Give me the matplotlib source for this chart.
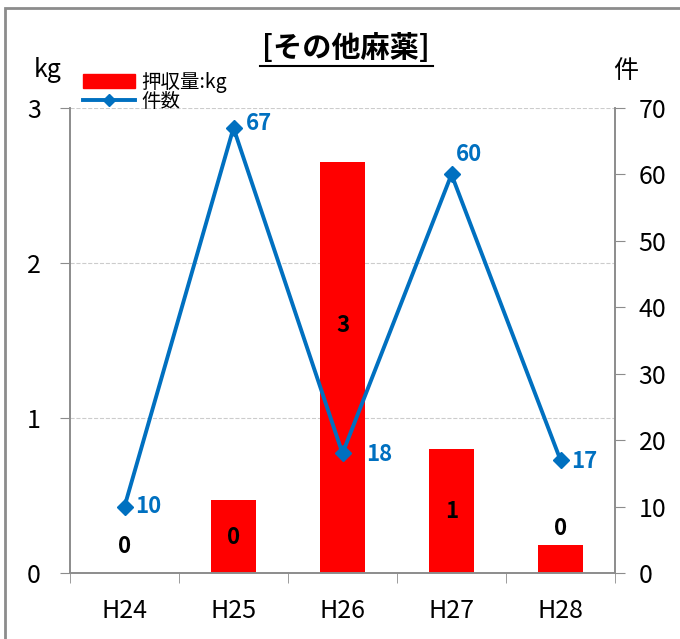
"""
その他麻薬: 押収量(kg) と 件数 の推移 (H24-H28)
"""

import matplotlib
matplotlib.use("Agg")
import matplotlib.pyplot as plt
from matplotlib.patches import Rectangle
from matplotlib.lines import Line2D
import numpy as np

plt.rcParams['font.family'] = ['Noto Sans CJK JP', 'DejaVu Sans']

years = ['H24', 'H25', 'H26', 'H27', 'H28']
seized_kg = [0.0, 0.47, 2.65, 0.80, 0.18]
cases = [10, 67, 18, 60, 17]

# label positions for the bar values (kg axis), tuned by hand
bar_label_y = [0.17, 0.23, 1.6, 0.4, 0.29]
# offsets (points) for the case count labels
case_label_off = [(8, 0), (9, 3), (17, -1), (3, 14), (8, -1)]

BAR_RED = '#FF0000'
LINE_BLUE = '#0070C0'
AXIS_GREY = '#8c8c8c'

fig = plt.figure(figsize=(6.8, 6.39), dpi=100)

# outer chart frame
fig.patches.append(Rectangle((5 / 680, -0.05), 1.0, 1 - 8 / 639 + 0.05,
                             transform=fig.transFigure, fill=False,
                             edgecolor=AXIS_GREY, linewidth=2))

ax = fig.add_axes([70 / 680, 66 / 639, 545 / 680, 465 / 639])
x = np.arange(len(years))

ax.bar(x, seized_kg, width=0.41, color=BAR_RED, zorder=2)
for xi, v, ly in zip(x, seized_kg, bar_label_y):
    ax.text(xi, ly, f'{v:.0f}', ha='center', va='center',
            fontsize=16, fontweight='bold', color='black', zorder=5)

ax.set_xlim(-0.5, len(years) - 0.5)
ax.set_ylim(0, 3)
ax.set_yticks([0, 1, 2, 3])
ax.set_yticklabels(['0', '1', '2', '3'])
ax.grid(axis='y', color='#cccccc', linestyle='--', linewidth=0.8, zorder=0)
ax.set_axisbelow(True)

ax.set_xticks(x)
ax.set_xticklabels(years)
ax.set_xticks(np.arange(-0.5, len(years)), minor=True)
ax.tick_params(axis='x', which='major', length=0, pad=18, labelsize=18)
ax.tick_params(axis='x', which='minor', length=7, direction='out', color=AXIS_GREY)
ax.tick_params(axis='y', length=7, direction='out', color=AXIS_GREY,
               labelsize=18, pad=14)

ax.spines['top'].set_visible(False)
for side in ['left', 'bottom', 'right']:
    ax.spines[side].set_color(AXIS_GREY)
    ax.spines[side].set_linewidth(1.2)

ax2 = ax.twinx()
ax2.plot(x, cases, color=LINE_BLUE, linewidth=2.8, marker='D',
         markersize=8, zorder=4)
for xi, c, off in zip(x, cases, case_label_off):
    ax2.annotate(str(c), (xi, c), xytext=off, textcoords='offset points',
                 ha='left', va='center', fontsize=16, fontweight='bold',
                 color=LINE_BLUE)
ax2.set_ylim(0, 70)
ax2.set_yticks(range(0, 71, 10))
ax2.tick_params(axis='y', length=7, direction='out', color=AXIS_GREY,
                labelsize=18, pad=10)
ax2.spines['top'].set_visible(False)
for side in ['left', 'bottom', 'right']:
    ax2.spines[side].set_color(AXIS_GREY)
    ax2.spines[side].set_linewidth(1.2)
ax2.set_xlim(-0.5, len(years) - 0.5)

# title (underlined) and axis units
fig.text(346 / 680, 1 - 48 / 639, '[その他麻薬]', ha='center', va='center',
         fontsize=21, fontweight='bold')
fig.lines.append(Line2D([260 / 680, 433 / 680], [1 - 66 / 639, 1 - 66 / 639],
                        transform=fig.transFigure, color='black', linewidth=1.5))
fig.text(48 / 680, 1 - 70 / 639, 'kg', ha='center', va='center', fontsize=18)
fig.text(626 / 680, 1 - 71 / 639, '件', ha='center', va='center', fontsize=18)

# legend
handles = [Rectangle((0, 0), 1, 1, color=BAR_RED),
           Line2D([0], [0], color=LINE_BLUE, linewidth=2.8, marker='D',
                  markersize=6)]
fig.legend(handles, ['押収量:kg', '件数'], loc='upper left',
           bbox_to_anchor=(69 / 680, 1 - 58 / 639), frameon=False,
           fontsize=14, handlelength=2.7, handletextpad=0.3,
           labelspacing=-0.1, borderpad=0.2)

fig.savefig('out.png', dpi=100)
